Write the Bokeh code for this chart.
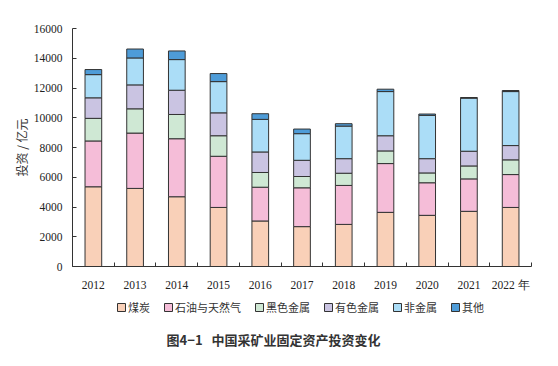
from bokeh.plotting import figure
from bokeh.layouts import column
from bokeh.models import FixedTicker, Legend, LegendItem, Label, Range1d, ColumnDataSource
from bokeh.embed import file_html
from bokeh.resources import INLINE

years = ["2012", "2013", "2014", "2015", "2016", "2017", "2018", "2019", "2020", "2021", "2022 年"]
coal = [5360, 5250, 4690, 3970, 3060, 2680, 2830, 3640, 3440, 3710, 3970]
oil_gas = [3080, 3720, 3900, 3440, 2270, 2610, 2620, 3280, 2190, 2180, 2210]
ferrous = [1520, 1630, 1630, 1380, 990, 760, 820, 850, 660, 870, 990]
nonferrous = [1380, 1610, 1630, 1540, 1380, 1090, 980, 1020, 960, 990, 960]
nonmetal = [1560, 1810, 2060, 2100, 2190, 1790, 2190, 2970, 2910, 3570, 3630]
other = [340, 600, 580, 540, 380, 310, 160, 160, 90, 40, 70]

series_names = ["煤炭", "石油与天然气", "黑色金属", "有色金属", "非金属", "其他"]
y_ticks = [0, 2000, 4000, 6000, 8000, 10000, 12000, 14000, 16000]

colors = ["#F9D0B8", "#F5BDD8", "#CFE8D4", "#CAC4E2", "#ABDDF7", "#4E9CD8"]
keys = ["coal", "oil_gas", "ferrous", "nonferrous", "nonmetal", "other"]

xs = list(range(len(years)))
src = ColumnDataSource(dict(x=xs, coal=coal, oil_gas=oil_gas, ferrous=ferrous,
                            nonferrous=nonferrous, nonmetal=nonmetal, other=other))

p = figure(width=558, height=295, output_backend="svg", toolbar_location=None,
           x_range=Range1d(-0.5, len(years) - 0.5), y_range=Range1d(0, 16000),
           min_border_left=72, min_border_right=27, min_border_top=28, min_border_bottom=29)
p.outline_line_color = None
p.xgrid.visible = False
p.ygrid.visible = False
p.background_fill_color = "white"
p.border_fill_color = "white"

p.vbar_stack(keys, x="x", width=0.4, source=src, color=colors,
             line_color="#333333", line_width=1)

# y axis
ya = p.yaxis[0]
ya.ticker = FixedTicker(ticks=y_ticks)
ya.minor_tick_line_color = None
ya.major_tick_in = 4
ya.major_tick_out = 0
ya.major_label_standoff = 10
ya.major_label_text_font = "Liberation Serif"
ya.major_label_text_font_size = "11.5px"
ya.major_label_text_color = "#222222"
ya.axis_line_color = "#333333"
ya.major_tick_line_color = "#333333"
ya.axis_label = "投资 / 亿元"
ya.axis_label_text_font = "Noto Sans CJK SC"
ya.axis_label_text_font_style = "normal"
ya.axis_label_text_font_size = "12px"
ya.axis_label_text_color = "#333333"
ya.axis_label_standoff = 1

# x axis
xa = p.xaxis[0]
xa.ticker = FixedTicker(ticks=xs, minor_ticks=[i - 0.5 for i in range(len(years) + 1)])
xa.major_label_overrides = {i: y for i, y in enumerate(years)}
xa.major_tick_in = 0
xa.major_tick_out = 0
xa.minor_tick_in = 4
xa.minor_tick_out = 0
xa.minor_tick_line_color = "#333333"
xa.axis_line_color = "#333333"
xa.major_label_standoff = 12
xa.major_label_text_font = "Liberation Serif"
xa.major_label_text_font_size = "11.5px"
xa.major_label_text_color = "#222222"

# legend + caption panel
p2 = figure(width=558, height=71, output_backend="svg", toolbar_location=None,
            x_range=Range1d(0, 1), y_range=Range1d(0, 1),
            x_axis_type=None, y_axis_type=None,
            min_border_left=0, min_border_right=0, min_border_top=0, min_border_bottom=0)
p2.grid.visible = False
p2.outline_line_color = None
p2.border_fill_color = "white"

items = []
for n, c in zip(series_names, colors):
    r = p2.vbar(x=[-10], top=[-9], bottom=[-10], width=0.1, fill_color=c,
                line_color="#333333", line_width=1)
    items.append(LegendItem(label=n, renderers=[r]))

legend = Legend(items=items, orientation="horizontal", location=(44, 51),
                label_text_font="Noto Sans CJK SC", label_text_font_size="11px",
                label_text_color="#333333", glyph_width=10, glyph_height=10,
                label_standoff=2, spacing=13, padding=2, margin=0,
                label_height=14,
                border_line_color=None, background_fill_alpha=0)
p2.add_layout(legend, "center")

title = Label(x=201, y=27, x_units="screen", y_units="screen",
              text="图4−1\u00a0\u00a0\u00a0中国采矿业固定资产投资变化", text_align="center",
              text_baseline="middle",
              text_font="Noto Sans CJK SC", text_font_size="13px",
              text_font_style="bold", text_color="#333333")
p2.add_layout(title)

layout = column(p, p2, spacing=0)
open("out.html", "w").write(file_html(layout, INLINE))
